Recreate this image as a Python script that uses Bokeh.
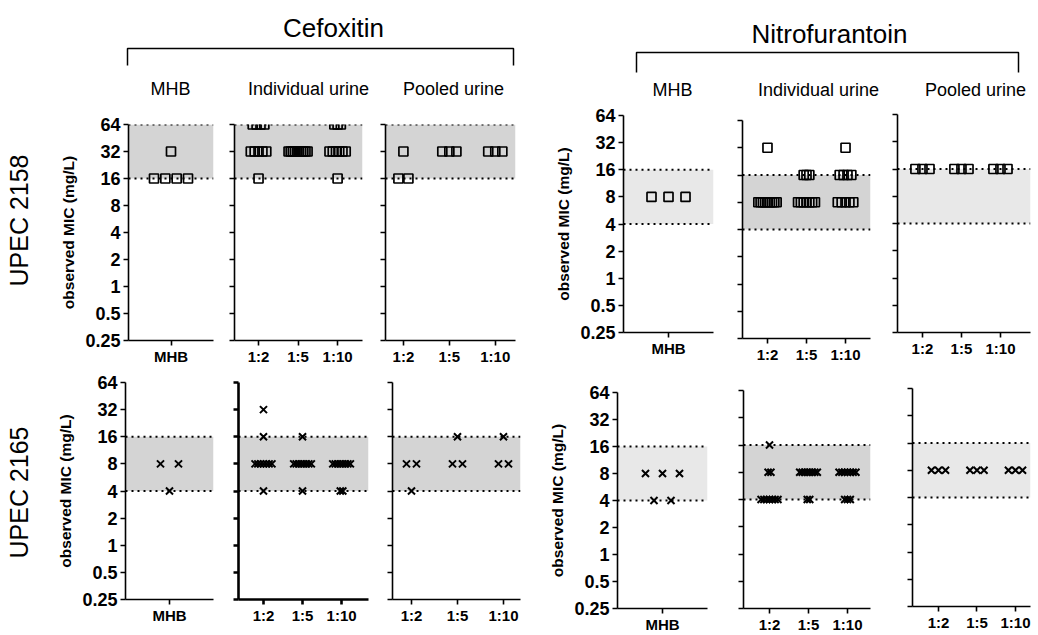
import math
from bokeh.plotting import figure
from bokeh.layouts import row, column
from bokeh.models import Range1d, FixedTicker, CustomJSTickFormatter, BoxAnnotation, Span
from bokeh.embed import file_html
from bokeh.resources import INLINE
from bokeh.core.properties import value

FONT = "Liberation Sans"

# ---------------- data ----------------
mic_ticks = [0.25, 0.5, 1, 2, 4, 8, 16, 32, 64]
mhb_cats = ["MHB"]
dil_cats = ["1:2", "1:5", "1:10"]

# Cefoxitin, UPEC 2158 (expected range 16-64)
cef2158_range = [16, 64]
cef2158_mhb = [[32, 16, 16, 16, 16]]
cef2158_ind = [[64, 64, 64, 64, 32, 32, 32, 32, 32, 16],
               [32, 32, 32, 32, 32, 32, 32, 32, 32, 32],
               [64, 64, 64, 32, 32, 32, 32, 32, 32, 16]]
cef2158_pool = [[32, 16, 16], [32, 32, 32], [32, 32, 32]]

# Nitrofurantoin, UPEC 2158 (expected range 4-16)
nit2158_range = [4, 16]
nit2158_mhb = [[8, 8, 8]]
nit2158_ind = [[32, 8, 8, 8, 8, 8, 8, 8, 8, 8],
               [16, 16, 16, 8, 8, 8, 8, 8, 8, 8],
               [32, 16, 16, 16, 16, 8, 8, 8, 8, 8]]
nit2158_pool = [[16, 16, 16], [16, 16, 16], [16, 16, 16]]

# Cefoxitin, UPEC 2165 (expected range 4-16)
cef2165_range = [4, 16]
cef2165_mhb = [[8, 8, 4]]
cef2165_ind = [[32, 16, 8, 8, 8, 8, 8, 8, 8, 4],
               [16, 8, 8, 8, 8, 8, 8, 8, 8, 4],
               [8, 8, 8, 8, 8, 8, 8, 8, 4, 4]]
cef2165_pool = [[8, 8, 4], [16, 8, 8], [16, 8, 8]]

# Nitrofurantoin, UPEC 2165 (expected range 4-16)
nit2165_range = [4, 16]
nit2165_mhb = [[8, 8, 8, 4, 4]]
nit2165_ind = [[16, 8, 8, 4, 4, 4, 4, 4, 4, 4],
               [8, 8, 8, 8, 8, 8, 8, 8, 4, 4],
               [8, 8, 8, 8, 8, 8, 8, 4, 4, 4]]
nit2165_pool = [[8, 8, 8], [8, 8, 8], [8, 8, 8]]

DARK = "#d4d4d4"
LIGHT = "#e8e8e8"

# ---------------- layout constants (page pixels) ----------------
H_HEAD, H_TOP, H_BOT = 100, 267, 268
TOP0 = H_HEAD
BOT0 = H_HEAD + H_TOP


def column_step_px(vals, wide):
    """Horizontal step between tied points, shared by all values of a column."""
    nmax = max(vals.count(v) for v in set(vals))
    if nmax <= 1:
        return 0.0
    if wide:
        return min(18.0, 34.0 / (nmax - 1))
    return min(10.0, (12.0 + 0.7 * nmax) / (nmax - 1))


def make_panel(cats, groups, marker, rng, shade, width, height, row_top,
               bl, br, y64, y025, xr, wide, ylabels, axis_w=1.6):
    bt = y64 - row_top
    bb = row_top + height - y025
    p = figure(width=width, height=height, y_axis_type="log",
               x_range=Range1d(*xr), y_range=Range1d(0.25, 64),
               output_backend="svg", toolbar_location=None,
               min_border_left=bl, min_border_right=br,
               min_border_top=bt, min_border_bottom=bb)
    p.outline_line_color = None
    p.grid.visible = False
    p.background_fill_color = "white"
    p.border_fill_color = "white"

    p.add_layout(BoxAnnotation(bottom=rng[0], top=rng[1], fill_color=shade,
                               fill_alpha=1, line_color=None, level="underlay"))
    for loc in rng:
        p.add_layout(Span(location=loc, dimension="width", line_color="black",
                          line_dash="2 4", line_width=1.8, level="underlay"))

    fw = width - bl - br
    ppu = fw / (xr[1] - xr[0])
    xs, ys = [], []
    for i, vals in enumerate(groups):
        step = column_step_px(vals, wide)
        for v in sorted(set(vals), reverse=True):
            n = vals.count(v)
            for k in range(n):
                off = (k - (n - 1) / 2) * step
                xs.append(i + 1 + off / ppu)
                ys.append(v)
    if marker == "square":
        p.scatter(xs, ys, marker="square", size=9, fill_alpha=0,
                  line_color="black", line_width=1.7)
    else:
        p.scatter(xs, ys, marker="x", size=10, line_color="black", line_width=2)

    for ax in (p.xaxis[0], p.yaxis[0]):
        ax.axis_line_width = axis_w
        ax.axis_line_color = "black"
        ax.major_tick_line_width = axis_w
        ax.major_tick_line_color = "black"
        ax.major_tick_out = 5
        ax.major_tick_in = 0
        ax.minor_tick_line_color = None
        ax.major_label_text_font = FONT
        ax.major_label_text_font_style = "bold"
        ax.major_label_text_font_size = "15px"
        ax.major_label_text_color = "black"
        ax.major_label_standoff = 2
    p.xaxis.ticker = FixedTicker(ticks=list(range(1, len(cats) + 1)))
    p.xaxis.formatter = CustomJSTickFormatter(
        args=dict(labels=cats), code="return labels[Math.round(tick) - 1] || '';")
    p.yaxis.ticker = FixedTicker(ticks=mic_ticks)
    if ylabels:
        p.yaxis.formatter = CustomJSTickFormatter(code="return tick.toString();")
        p.yaxis.major_label_text_font_size = "18px"
        p.yaxis.major_label_standoff = 3
        p.yaxis.axis_label = "observed MIC (mg/L)"
        p.yaxis.axis_label_text_font = FONT
        p.yaxis.axis_label_text_font_style = "bold"
        p.yaxis.axis_label_text_font_size = "15.5px"
        p.yaxis.axis_label_text_color = "black"
        p.yaxis.axis_label_standoff = 5
    else:
        p.yaxis.formatter = CustomJSTickFormatter(code="return '';")
    return column(p, spacing=0)


def row_label(text, height, row_top, ycenter):
    p = figure(width=40, height=height, x_range=Range1d(0, 40),
               y_range=Range1d(row_top + height, row_top),
               output_backend="svg", toolbar_location=None,
               min_border_left=0, min_border_right=0, min_border_top=0, min_border_bottom=0)
    p.axis.visible = False
    p.grid.visible = False
    p.outline_line_color = None
    p.text(x=[18], y=[ycenter], text=[text], angle=math.pi / 2,
           text_align="center", text_baseline="middle",
           text_font=value(FONT), text_font_size="25px", text_color="black")
    return column(p, spacing=0)


# ---------------- header ----------------
head = figure(width=1038, height=H_HEAD, x_range=Range1d(0, 1038), y_range=Range1d(H_HEAD, 0),
              output_backend="svg", toolbar_location=None,
              min_border_left=0, min_border_right=0, min_border_top=0, min_border_bottom=0)
head.axis.visible = False
head.grid.visible = False
head.outline_line_color = None
drug_titles = ["Cefoxitin", "Nitrofurantoin"]
head.text(x=[333, 829], y=[27, 33], text=drug_titles, text_align="center",
          text_baseline="middle", text_font=value(FONT), text_font_size="26px",
          text_color="black")
col_titles = ["MHB", "Individual urine", "Pooled urine",
              "MHB", "Individual urine", "Pooled urine"]
head.text(x=[170, 308, 453, 672, 818, 975], y=[88, 88, 88, 89, 89, 89], text=col_titles,
          text_align="center", text_baseline="middle", text_font=value(FONT),
          text_font_size="18px", text_color="black")
head.multi_line(xs=[[127, 127, 513, 513], [636, 636, 1018, 1018]],
                ys=[[65, 48, 48, 65], [72, 52, 52, 72]],
                line_color="black", line_width=1.5)

# ---------------- panels ----------------
R1 = dict(height=H_TOP, row_top=TOP0)
R2 = dict(height=H_BOT, row_top=BOT0)

p1 = make_panel(mhb_cats, cef2158_mhb, "square", cef2158_range, DARK,
                178, bl=88, br=5, y64=124, y025=342, xr=(0, 2), wide=True, ylabels=True, **R1)
p2 = make_panel(dil_cats, cef2158_ind, "square", cef2158_range, DARK,
                150, bl=16, br=6, y64=124, y025=342, xr=(0.392, 3.63), wide=False, ylabels=False, **R1)
p3 = make_panel(dil_cats, cef2158_pool, "square", cef2158_range, DARK,
                152, bl=17, br=5, y64=124, y025=342, xr=(0.61, 3.44), wide=False, ylabels=False, **R1)
p4 = make_panel(mhb_cats, nit2158_mhb, "square", nit2158_range, LIGHT,
                198, bl=103, br=5, y64=115, y025=332, xr=(0, 2), wide=True, ylabels=True, **R1)
p5 = make_panel(dil_cats, nit2158_ind, "square", nit2158_range, DARK,
                157, bl=24, br=5, y64=120, y025=338, xr=(0.36, 3.64), wide=False, ylabels=False, **R1)
p6 = make_panel(dil_cats, nit2158_pool, "square", nit2158_range, LIGHT,
                163, bl=22, br=8, y64=114, y025=332, xr=(0.36, 3.77), wide=False, ylabels=False, **R1)

p7 = make_panel(mhb_cats, cef2165_mhb, "x", cef2165_range, DARK,
                178, bl=85, br=5, y64=382, y025=599, xr=(0, 2), wide=True, ylabels=True, **R2)
p8 = make_panel(dil_cats, cef2165_ind, "x", cef2165_range, DARK,
                154, bl=20, br=4, y64=382, y025=599, xr=(0.36, 3.69), wide=False, ylabels=False,
                axis_w=2.6, **R2)
p9 = make_panel(dil_cats, cef2165_pool, "x", cef2165_range, DARK,
                153, bl=20, br=5, y64=382, y025=599, xr=(0.587, 3.37), wide=False, ylabels=False, **R2)
p10 = make_panel(mhb_cats, nit2165_mhb, "x", nit2165_range, LIGHT,
                 187, bl=92, br=5, y64=392, y025=609, xr=(0, 2), wide=True, ylabels=True, **R2)
p11 = make_panel(dil_cats, nit2165_ind, "x", nit2165_range, DARK,
                 163, bl=31, br=5, y64=390, y025=608, xr=(0.333, 3.59), wide=False, ylabels=False, **R2)
p12 = make_panel(dil_cats, nit2165_pool, "x", nit2165_range, LIGHT,
                 163, bl=37, br=8, y64=388, y025=606, xr=(0.325, 3.39), wide=False, ylabels=False, **R2)

strains = ["UPEC 2158", "UPEC 2165"]
l1 = row_label(strains[0], H_TOP, TOP0, 220)
l2 = row_label(strains[1], H_BOT, BOT0, 492)

layout = column(head,
                row(l1, p1, p2, p3, p4, p5, p6, spacing=0),
                row(l2, p7, p8, p9, p10, p11, p12, spacing=0),
                spacing=0)

open("out.html", "w").write(file_html(layout, INLINE))
